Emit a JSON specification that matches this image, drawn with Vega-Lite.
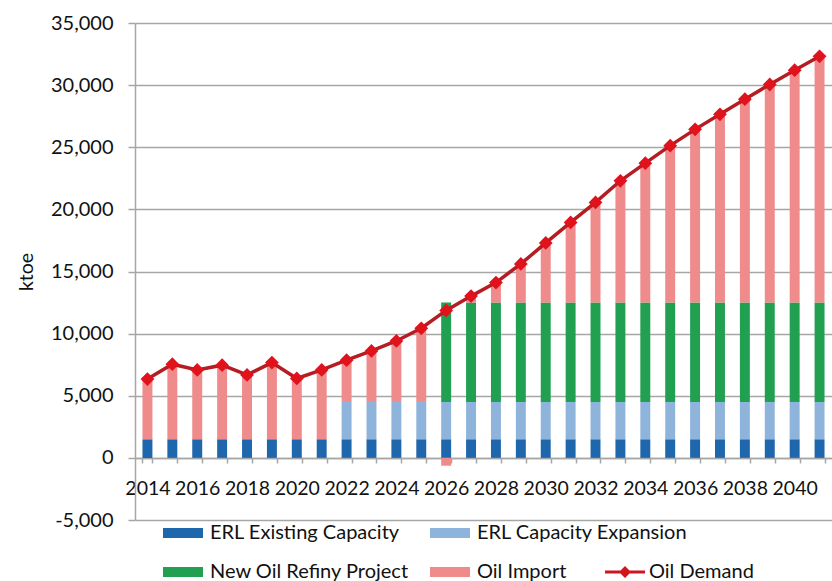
{
  "$schema": "https://vega.github.io/schema/vega-lite/v6.json",
  "width": 697,
  "height": 497,
  "autosize": {"type": "none"},
  "padding": {"left": 135, "top": 23, "right": 0, "bottom": 61},
  "background": "white",
  "config": {
    "font": "Lato",
    "view": {"stroke": null},
    "axis": {"labelColor": "#111", "titleColor": "#111"}
  },
  "datasets": {
    "supply": [
      {"year": 2014, "series": "ERL Existing Capacity", "value": 1500},
      {"year": 2015, "series": "ERL Existing Capacity", "value": 1500},
      {"year": 2016, "series": "ERL Existing Capacity", "value": 1500},
      {"year": 2017, "series": "ERL Existing Capacity", "value": 1500},
      {"year": 2018, "series": "ERL Existing Capacity", "value": 1500},
      {"year": 2019, "series": "ERL Existing Capacity", "value": 1500},
      {"year": 2020, "series": "ERL Existing Capacity", "value": 1500},
      {"year": 2021, "series": "ERL Existing Capacity", "value": 1500},
      {"year": 2022, "series": "ERL Existing Capacity", "value": 1500},
      {"year": 2023, "series": "ERL Existing Capacity", "value": 1500},
      {"year": 2024, "series": "ERL Existing Capacity", "value": 1500},
      {"year": 2025, "series": "ERL Existing Capacity", "value": 1500},
      {"year": 2026, "series": "ERL Existing Capacity", "value": 1500},
      {"year": 2027, "series": "ERL Existing Capacity", "value": 1500},
      {"year": 2028, "series": "ERL Existing Capacity", "value": 1500},
      {"year": 2029, "series": "ERL Existing Capacity", "value": 1500},
      {"year": 2030, "series": "ERL Existing Capacity", "value": 1500},
      {"year": 2031, "series": "ERL Existing Capacity", "value": 1500},
      {"year": 2032, "series": "ERL Existing Capacity", "value": 1500},
      {"year": 2033, "series": "ERL Existing Capacity", "value": 1500},
      {"year": 2034, "series": "ERL Existing Capacity", "value": 1500},
      {"year": 2035, "series": "ERL Existing Capacity", "value": 1500},
      {"year": 2036, "series": "ERL Existing Capacity", "value": 1500},
      {"year": 2037, "series": "ERL Existing Capacity", "value": 1500},
      {"year": 2038, "series": "ERL Existing Capacity", "value": 1500},
      {"year": 2039, "series": "ERL Existing Capacity", "value": 1500},
      {"year": 2040, "series": "ERL Existing Capacity", "value": 1500},
      {"year": 2041, "series": "ERL Existing Capacity", "value": 1500},
      {"year": 2022, "series": "ERL Capacity Expansion", "value": 3000},
      {"year": 2023, "series": "ERL Capacity Expansion", "value": 3000},
      {"year": 2024, "series": "ERL Capacity Expansion", "value": 3000},
      {"year": 2025, "series": "ERL Capacity Expansion", "value": 3000},
      {"year": 2026, "series": "ERL Capacity Expansion", "value": 3000},
      {"year": 2027, "series": "ERL Capacity Expansion", "value": 3000},
      {"year": 2028, "series": "ERL Capacity Expansion", "value": 3000},
      {"year": 2029, "series": "ERL Capacity Expansion", "value": 3000},
      {"year": 2030, "series": "ERL Capacity Expansion", "value": 3000},
      {"year": 2031, "series": "ERL Capacity Expansion", "value": 3000},
      {"year": 2032, "series": "ERL Capacity Expansion", "value": 3000},
      {"year": 2033, "series": "ERL Capacity Expansion", "value": 3000},
      {"year": 2034, "series": "ERL Capacity Expansion", "value": 3000},
      {"year": 2035, "series": "ERL Capacity Expansion", "value": 3000},
      {"year": 2036, "series": "ERL Capacity Expansion", "value": 3000},
      {"year": 2037, "series": "ERL Capacity Expansion", "value": 3000},
      {"year": 2038, "series": "ERL Capacity Expansion", "value": 3000},
      {"year": 2039, "series": "ERL Capacity Expansion", "value": 3000},
      {"year": 2040, "series": "ERL Capacity Expansion", "value": 3000},
      {"year": 2041, "series": "ERL Capacity Expansion", "value": 3000},
      {"year": 2026, "series": "New Oil Refiny Project", "value": 8000},
      {"year": 2027, "series": "New Oil Refiny Project", "value": 8000},
      {"year": 2028, "series": "New Oil Refiny Project", "value": 8000},
      {"year": 2029, "series": "New Oil Refiny Project", "value": 8000},
      {"year": 2030, "series": "New Oil Refiny Project", "value": 8000},
      {"year": 2031, "series": "New Oil Refiny Project", "value": 8000},
      {"year": 2032, "series": "New Oil Refiny Project", "value": 8000},
      {"year": 2033, "series": "New Oil Refiny Project", "value": 8000},
      {"year": 2034, "series": "New Oil Refiny Project", "value": 8000},
      {"year": 2035, "series": "New Oil Refiny Project", "value": 8000},
      {"year": 2036, "series": "New Oil Refiny Project", "value": 8000},
      {"year": 2037, "series": "New Oil Refiny Project", "value": 8000},
      {"year": 2038, "series": "New Oil Refiny Project", "value": 8000},
      {"year": 2039, "series": "New Oil Refiny Project", "value": 8000},
      {"year": 2040, "series": "New Oil Refiny Project", "value": 8000},
      {"year": 2041, "series": "New Oil Refiny Project", "value": 8000},
      {"year": 2014, "series": "Oil Import", "value": 4840},
      {"year": 2015, "series": "Oil Import", "value": 6040},
      {"year": 2016, "series": "Oil Import", "value": 5580},
      {"year": 2017, "series": "Oil Import", "value": 5960},
      {"year": 2018, "series": "Oil Import", "value": 5180},
      {"year": 2019, "series": "Oil Import", "value": 6170},
      {"year": 2020, "series": "Oil Import", "value": 4890},
      {"year": 2021, "series": "Oil Import", "value": 5580},
      {"year": 2022, "series": "Oil Import", "value": 3360},
      {"year": 2023, "series": "Oil Import", "value": 4110},
      {"year": 2024, "series": "Oil Import", "value": 4910},
      {"year": 2025, "series": "Oil Import", "value": 5930},
      {"year": 2026, "series": "Oil Import", "value": -630},
      {"year": 2027, "series": "Oil Import", "value": 520},
      {"year": 2028, "series": "Oil Import", "value": 1610},
      {"year": 2029, "series": "Oil Import", "value": 3110},
      {"year": 2030, "series": "Oil Import", "value": 4800},
      {"year": 2031, "series": "Oil Import", "value": 6450},
      {"year": 2032, "series": "Oil Import", "value": 8060},
      {"year": 2033, "series": "Oil Import", "value": 9800},
      {"year": 2034, "series": "Oil Import", "value": 11220},
      {"year": 2035, "series": "Oil Import", "value": 12630},
      {"year": 2036, "series": "Oil Import", "value": 13940},
      {"year": 2037, "series": "Oil Import", "value": 15150},
      {"year": 2038, "series": "Oil Import", "value": 16370},
      {"year": 2039, "series": "Oil Import", "value": 17550},
      {"year": 2040, "series": "Oil Import", "value": 18700},
      {"year": 2041, "series": "Oil Import", "value": 19820}
    ],
    "demand": [
      {"year": 2014, "demand": 6340},
      {"year": 2015, "demand": 7540},
      {"year": 2016, "demand": 7080},
      {"year": 2017, "demand": 7460},
      {"year": 2018, "demand": 6680},
      {"year": 2019, "demand": 7670},
      {"year": 2020, "demand": 6390},
      {"year": 2021, "demand": 7080},
      {"year": 2022, "demand": 7860},
      {"year": 2023, "demand": 8610},
      {"year": 2024, "demand": 9410},
      {"year": 2025, "demand": 10430},
      {"year": 2026, "demand": 11870},
      {"year": 2027, "demand": 13020},
      {"year": 2028, "demand": 14110},
      {"year": 2029, "demand": 15610},
      {"year": 2030, "demand": 17300},
      {"year": 2031, "demand": 18950},
      {"year": 2032, "demand": 20560},
      {"year": 2033, "demand": 22300},
      {"year": 2034, "demand": 23720},
      {"year": 2035, "demand": 25130},
      {"year": 2036, "demand": 26440},
      {"year": 2037, "demand": 27650},
      {"year": 2038, "demand": 28870},
      {"year": 2039, "demand": 30050},
      {"year": 2040, "demand": 31200},
      {"year": 2041, "demand": 32320}
    ]
  },
  "encoding": {
    "x": {
      "field": "year",
      "type": "ordinal",
      "scale": {"paddingInner": 0.6, "paddingOuter": 0.3},
      "axis": {
        "title": null,
        "offset": -62,
        "labelAngle": 0,
        "labelExpr": "datum.value % 2 == 0 ? datum.label : ''",
        "labelOverlap": false,
        "labelBound": false,
        "labelFlush": false,
        "labelFontSize": 19.5,
        "labelPadding": 16,
        "tickBand": "extent",
        "tickSize": 5,
        "tickColor": "#a6a6a6",
        "tickWidth": 1.5,
        "domainColor": "#a6a6a6",
        "domainWidth": 1.5,
        "grid": false
      }
    }
  },
  "layer": [
    {
      "data": {"name": "supply"},
      "transform": [
        {"calculate": "indexof(['ERL Existing Capacity','ERL Capacity Expansion','New Oil Refiny Project','Oil Import'], datum.series)", "as": "stackorder"}
      ],
      "mark": {"type": "bar"},
      "encoding": {
        "y": {
          "field": "value",
          "type": "quantitative",
          "stack": "zero",
          "scale": {"domain": [-5000, 35000], "nice": false},
          "axis": {
            "values": [-5000, 0, 5000, 10000, 15000, 20000, 25000, 30000, 35000],
            "format": ",.0f",
            "labelExpr": "replace(datum.label, '\u2212', '-')",
            "title": "ktoe",
            "titleFontSize": 19.5,
            "titleFontWeight": "normal",
            "titlePadding": 14,
            "labelFontSize": 20,
            "labelPadding": 15,
            "tickSize": 7,
            "tickColor": "#a6a6a6",
            "tickWidth": 1.5,
            "domainColor": "#a6a6a6",
            "domainWidth": 1.5,
            "grid": true,
            "gridColor": "#a6a6a6",
            "gridWidth": 1.5
          }
        },
        "color": {
          "field": "series",
          "type": "nominal",
          "scale": {
            "domain": ["ERL Existing Capacity", "ERL Capacity Expansion", "New Oil Refiny Project", "Oil Import"],
            "range": ["#1f67ad", "#8fb4dc", "#21a052", "#ef8b8b"]
          },
          "legend": {
            "title": null,
            "orient": "none",
            "legendX": 28,
            "legendY": 490,
            "direction": "horizontal",
            "columns": 2,
            "columnPadding": 21,
            "rowPadding": 9,
            "padding": 0,
            "symbolType": "M-1,-0.25h2v0.5h-2z",
            "symbolSize": 1600,
            "symbolStrokeWidth": 0,
            "labelFontSize": 20,
            "labelOffset": 7,
            "labelColor": "#111",
            "labelLimit": 400
          }
        },
        "order": {"field": "stackorder", "type": "quantitative"}
      }
    },
    {
      "data": {"name": "demand"},
      "mark": {"type": "line", "strokeWidth": 3.5},
      "encoding": {
        "y": {"field": "demand", "type": "quantitative"},
        "stroke": {
          "datum": "Oil Demand",
          "scale": {"range": ["#b51d22"]},
          "legend": {
            "title": null,
            "orient": "none",
            "legendX": 470,
            "legendY": 529,
            "padding": 0,
            "symbolType": "M-1,-0.07h2v0.14h-2z M0,-0.3L0.3,0L0,0.3L-0.3,0z",
            "symbolSize": 1600,
            "symbolStrokeWidth": 0,
            "labelFontSize": 20,
            "labelOffset": 4,
            "labelColor": "#111",
            "labelLimit": 400,
            "encode": {"symbols": {"update": {"fill": {"value": "#d0151d"}, "strokeWidth": {"value": 0}}}}
          }
        }
      }
    },
    {
      "data": {"name": "demand"},
      "mark": {"type": "point", "shape": "diamond", "filled": true, "size": 190, "color": "#e0121c", "opacity": 1},
      "encoding": {
        "y": {"field": "demand", "type": "quantitative"}
      }
    }
  ]
}
